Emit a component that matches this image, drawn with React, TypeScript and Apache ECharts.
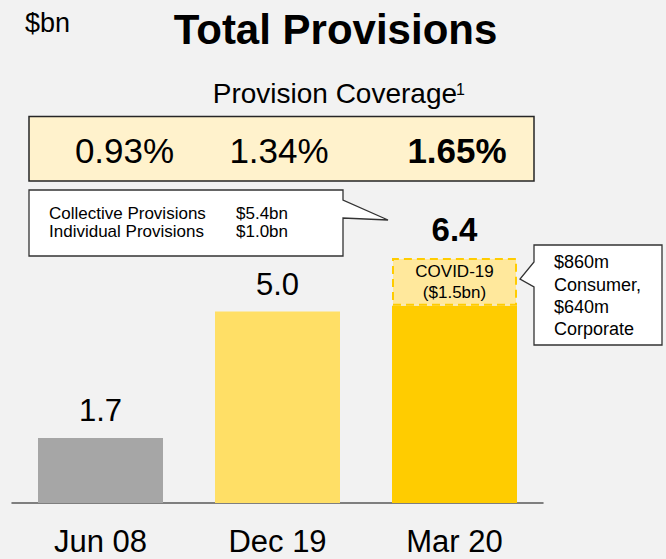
import React, { useEffect, useRef } from 'react';
import * as echarts from 'echarts';

const FONT = '"Liberation Sans", Arial, Helvetica, sans-serif';

// ---- data ----
const categories = ['Jun 08', 'Dec 19', 'Mar 20'];
const totals = [1.7, 5.0, 6.4];
const covidPortion = [0, 0, 1.25]; // height of the dashed COVID-19 block as drawn
const barColors = ['#A6A6A6', '#FFDF66', '#FFCC00'];
const coverageLabels = ['0.93%', '1.34%', '1.65%'];
const coverageBold = [false, false, true];
const leftCalloutNames = ['Collective Provisions', 'Individual Provisions'];
const leftCalloutValues = ['$5.4bn', '$1.0bn'];
const rightCalloutLines = ['$860m', 'Consumer,', '$640m', 'Corporate'];
const covidLabelLines = ['COVID-19', '($1.5bn)'];
const titleText = 'Total Provisions';
const unitText = '$bn';
const coverageTitle = 'Provision Coverage';

export default function App() {
  const ref = useRef<HTMLDivElement>(null);

  useEffect(() => {
    const chart = echarts.init(ref.current as HTMLDivElement, null, { renderer: 'svg' });
    const base = totals.map((t, i) => +(t - covidPortion[i]).toFixed(2));
    const last = totals.length - 1;

    const coverageX = [124.5, 279, 457];
    const rightLineY = [262, 284.5, 306.5, 329];

    const graphic: any[] = [
      {
        type: 'text', x: 25, y: 22.5,
        style: { text: unitText, fontSize: 27, fontFamily: FONT, fill: '#000', align: 'left', verticalAlign: 'middle' },
      },
      {
        type: 'text', x: 335.5, y: 29.5,
        style: { text: titleText, fontSize: 42, fontWeight: 'bold', fontFamily: FONT, fill: '#000', align: 'center', verticalAlign: 'middle' },
      },
      {
        type: 'text', x: 212.7, y: 93.5,
        style: { text: coverageTitle, fontSize: 28, fontFamily: FONT, fill: '#000', align: 'left', verticalAlign: 'middle' },
      },
      {
        type: 'text', x: 456, y: 89,
        style: { text: '1', fontSize: 16, fontFamily: FONT, fill: '#000', align: 'left', verticalAlign: 'middle' },
      },
      {
        type: 'rect', shape: { x: 29, y: 116.5, width: 505, height: 64.5 },
        style: { fill: '#FFF2CC', stroke: '#262626', lineWidth: 1.5 },
      },
      ...coverageLabels.map((t, i) => ({
        type: 'text', x: coverageX[i], y: 150,
        style: { text: t, fontSize: 35, fontWeight: coverageBold[i] ? 'bold' : 'normal', fontFamily: FONT, fill: '#000', align: 'center', verticalAlign: 'middle' },
      })),
      {
        type: 'polygon',
        shape: { points: [[29, 190], [343, 190], [343, 200], [388, 220], [343, 218], [343, 256], [29, 256]] },
        style: { fill: '#FFFFFF', stroke: '#333333', lineWidth: 1.3 },
      },
      ...leftCalloutNames.map((t, i) => ({
        type: 'text', x: 49, y: 213.5 + i * 18,
        style: { text: t, fontSize: 17, fontFamily: FONT, fill: '#000', align: 'left', verticalAlign: 'middle' },
      })),
      ...leftCalloutValues.map((t, i) => ({
        type: 'text', x: 236, y: 213.5 + i * 18,
        style: { text: t, fontSize: 17, fontFamily: FONT, fill: '#000', align: 'left', verticalAlign: 'middle' },
      })),
      {
        type: 'polygon',
        shape: { points: [[534, 245], [662, 245], [662, 345], [534, 345], [534, 287], [520, 279], [534, 262]] },
        style: { fill: '#FFFFFF', stroke: '#333333', lineWidth: 1.3 },
      },
      ...rightCalloutLines.map((t, i) => ({
        type: 'text', x: 554, y: rightLineY[i],
        style: { text: t, fontSize: 18, fontFamily: FONT, fill: '#000', align: 'left', verticalAlign: 'middle' },
      })),
    ];

    const option: any = {
      animation: false,
      backgroundColor: '#F2F2F2',
      textStyle: { fontFamily: FONT },
      grid: { left: 12, right: 123, top: 120, bottom: 56, containLabel: false },
      xAxis: {
        type: 'category',
        data: categories,
        axisTick: { show: false },
        axisLine: { lineStyle: { color: '#595959', width: 1.5 } },
        axisLabel: { color: '#000', fontSize: 31, fontFamily: FONT, margin: 23 },
      },
      yAxis: { type: 'value', min: 0, max: 10, show: false },
      series: [
        {
          type: 'bar', stack: 'p', barWidth: 125, silent: true,
          data: base.map((v, i) => ({ value: v, itemStyle: { color: barColors[i] } })),
        },
        {
          type: 'bar', stack: 'p', barWidth: 125, silent: true,
          data: covidPortion.map((v) => (v > 0 ? v : '-')),
          itemStyle: { color: '#FFE89C', borderColor: '#FFCC00', borderWidth: 2, borderType: [8, 5] },
          label: {
            show: true, position: 'inside', formatter: covidLabelLines.join('\n'),
            fontSize: 17, lineHeight: 21, color: '#000', fontFamily: FONT,
          },
        },
        {
          type: 'bar', stack: 'p', barWidth: 125, silent: true,
          data: totals.map(() => 0),
          itemStyle: { color: 'transparent' },
          label: {
            show: true, position: 'top', distance: 12,
            formatter: (p: any) =>
              p.dataIndex === last ? `{b|${totals[p.dataIndex].toFixed(1)}}` : `{r|${totals[p.dataIndex].toFixed(1)}}`,
            rich: {
              r: { fontSize: 31, color: '#000', fontFamily: FONT },
              b: { fontSize: 33, fontWeight: 'bold', color: '#000', fontFamily: FONT },
            },
          },
        },
      ],
      graphic,
    };

    chart.setOption(option);
    return () => chart.dispose();
  }, []);

  return (
    <div
      ref={ref}
      style={{ position: 'fixed', left: 0, top: 0, width: 666, height: 559 }}
    />
  );
}
